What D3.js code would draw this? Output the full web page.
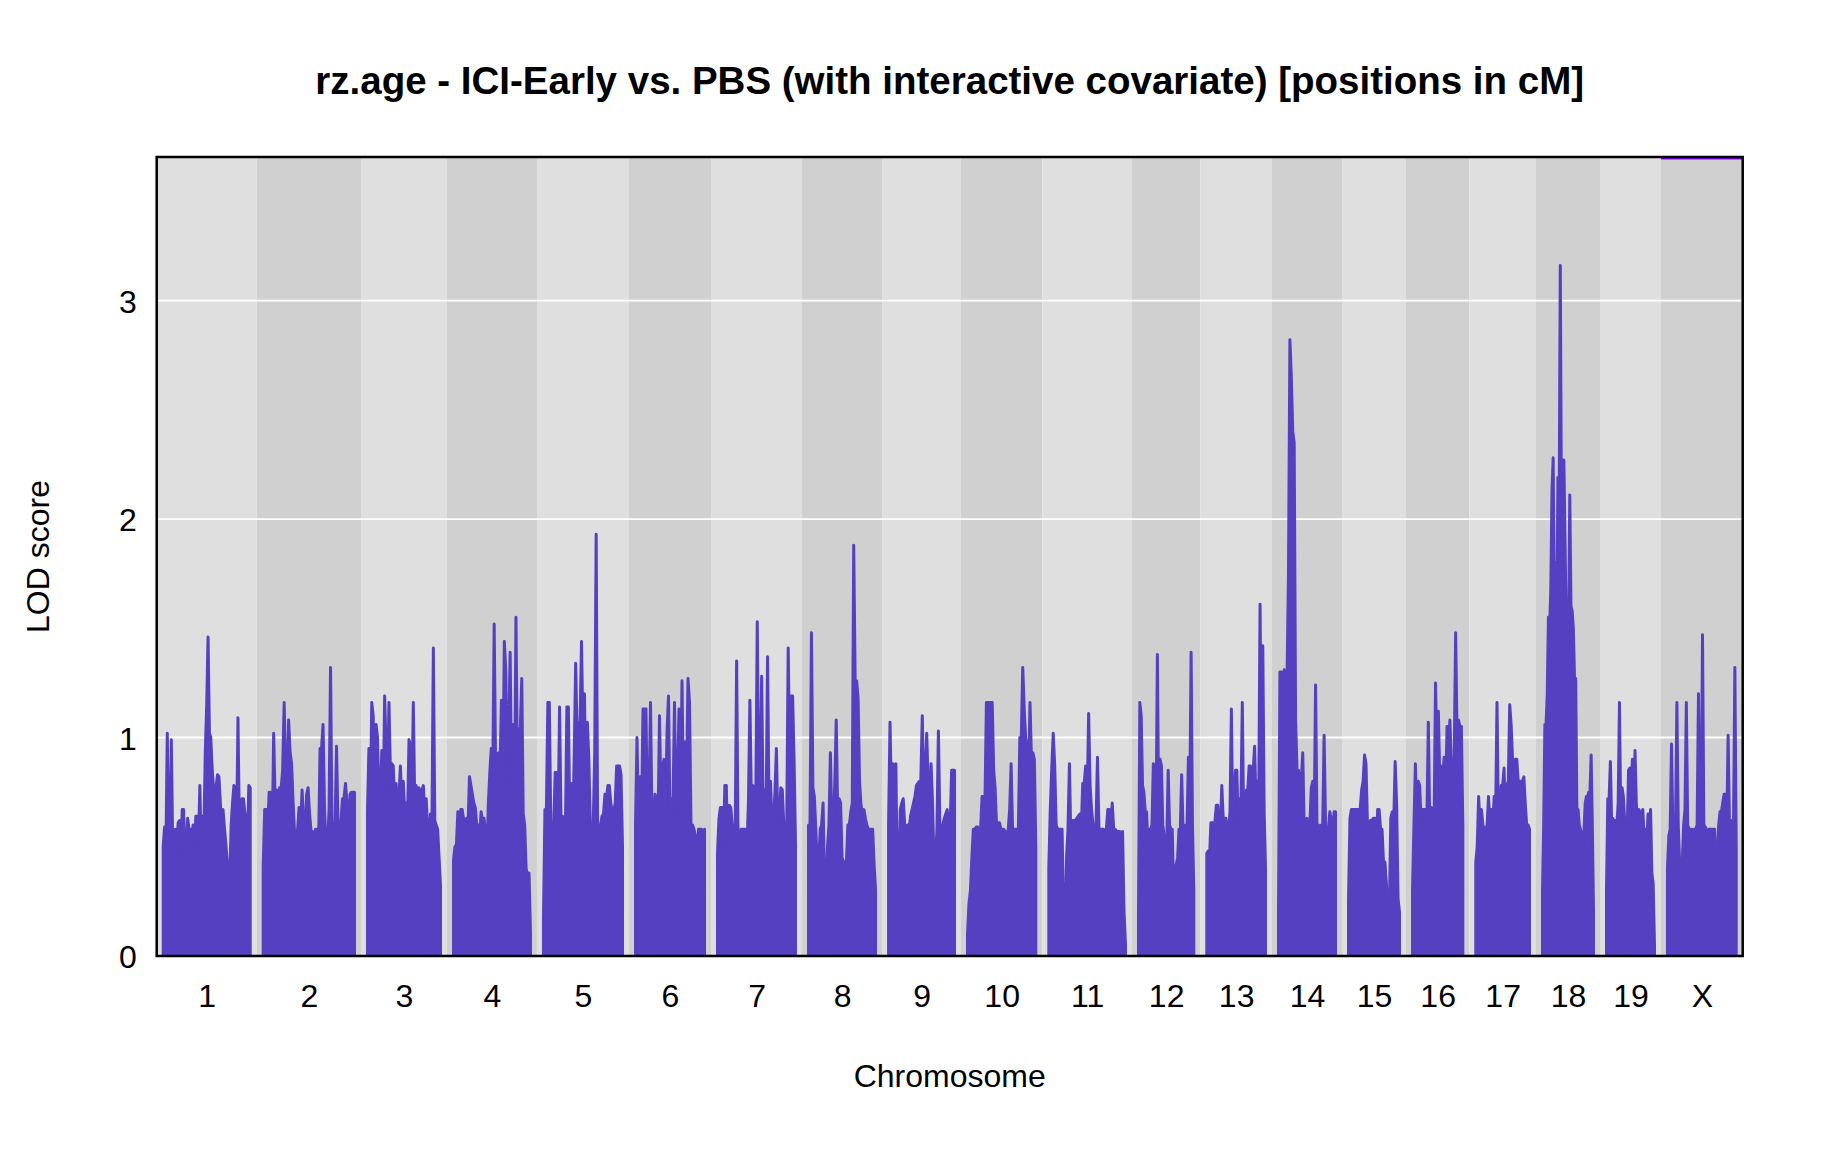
<!DOCTYPE html>
<html>
<head>
<meta charset="utf-8">
<script src="https://cdn.jsdelivr.net/npm/d3@7"></script>
<style>
  html, body { margin: 0; padding: 0; background: #ffffff; }
  svg { display: block; }
</style>
</head>
<body>
<svg id="chart" width="1824" height="1152"></svg>
<script>
// ---------------- DATA ----------------
const chromosomes = ["1","2","3","4","5","6","7","8","9","10","11","12","13","14","15","16","17","18","19","X"];
// chromosome lengths (cM)
const chrLengthsCM = [97.2, 102.0, 81.6, 86.0, 88.3, 77.1, 87.2, 74.9, 73.7, 76.3, 85.7, 61.8, 65.6, 63.7, 57.0, 56.2, 60.0, 57.0, 53.6, 76.8];
const gapCM = 14.5;
const yTicks = [0, 1, 2, 3];
const yMax = 3.657;

// LOD scores along each chromosome (left to right)
const lod1 = [0.50,0.59,0.48,1.02,0.57,0.50,0.99,0.50,0.44,0.58,0.50,0.61,0.62,0.45,0.67,0.67,0.44,0.50,0.63,0.58,0.58,0.55,0.60,0.50,0.64,0.64,0.55,0.78,0.44,0.64,0.60,0.94,1.15,1.46,1.02,1.00,0.86,0.77,0.76,0.78,0.83,0.82,0.71,0.55,0.67,0.59,0.52,0.44,0.38,0.37,0.60,0.70,0.78,0.77,0.55,1.09,0.60,0.58,0.72,0.72,0.66,0.60,0.55,0.78,0.77];
const lod2 = [0.41,0.67,0.67,0.59,0.75,0.75,0.50,1.02,0.70,0.76,0.60,0.77,0.77,0.85,1.16,0.88,0.70,1.08,0.93,0.88,0.70,0.56,0.52,0.58,0.68,0.60,0.76,0.60,0.55,0.74,0.77,0.65,0.57,0.57,0.51,0.58,0.58,0.51,0.95,0.95,1.06,0.67,0.50,0.51,0.67,1.32,0.55,0.60,0.60,0.96,0.60,0.58,0.62,0.72,0.72,0.79,0.70,0.40,0.74,0.75,0.75,0.75];
const lod3 = [0.66,0.95,0.70,1.16,1.10,0.72,1.06,1.00,0.68,0.75,0.94,0.70,1.19,0.95,0.75,1.16,0.85,0.88,0.87,0.70,0.79,0.66,0.73,0.87,0.68,0.80,0.66,0.70,0.64,0.99,0.96,0.72,1.16,0.70,0.78,0.66,0.77,0.62,0.76,0.78,0.66,0.72,0.59,0.55,0.65,0.60,1.41,0.62,0.60,0.58,0.45,0.32];
const lod4 = [0.44,0.50,0.51,0.66,0.62,0.67,0.67,0.62,0.62,0.63,0.60,0.82,0.78,0.74,0.70,0.68,0.60,0.60,0.55,0.66,0.62,0.63,0.57,0.47,0.70,0.84,0.95,0.80,1.52,0.85,0.92,0.93,0.85,1.17,0.80,1.44,1.30,0.80,1.02,1.39,0.75,1.06,0.66,1.55,0.85,1.04,1.04,1.27,0.65,0.60,0.40,0.37,0.38,0.10];
const lod5 = [0.17,0.67,0.67,1.16,1.16,0.60,0.50,0.60,0.84,0.84,0.60,1.14,0.62,0.64,0.63,0.58,1.14,1.14,0.60,0.79,0.55,0.92,1.34,1.00,1.07,1.07,1.44,1.00,1.20,0.75,1.07,0.90,0.60,0.42,0.60,0.93,1.93,0.60,0.60,0.60,0.64,0.65,0.74,0.72,0.78,0.78,0.70,0.66,0.66,0.70,0.87,0.87,0.87,0.83,0.50];
const lod6 = [0.60,1.00,0.62,0.82,0.60,1.13,1.13,1.13,0.57,0.70,1.16,0.62,0.57,0.74,0.72,0.60,1.10,0.70,0.87,0.90,0.62,1.02,1.19,0.62,0.72,0.70,1.16,0.62,0.80,1.13,0.65,1.26,0.70,0.98,0.80,1.27,1.16,0.60,0.60,0.58,0.55,0.30,0.58,0.58,0.58,0.57,0.58];
const lod7 = [0.47,0.63,0.68,0.68,0.50,0.78,0.78,0.42,0.69,0.68,0.60,0.52,0.55,1.35,0.50,0.15,0.58,0.58,0.58,0.58,0.50,0.70,1.17,0.72,0.78,0.77,0.72,1.53,0.75,0.82,1.28,0.65,0.76,0.65,1.37,0.65,0.80,0.60,0.62,0.75,0.95,0.60,0.62,0.77,0.76,0.60,0.58,0.60,1.41,0.90,1.19,1.19,0.90,0.50];
const lod8 = [0.60,0.60,1.48,0.77,0.73,0.58,0.42,0.43,0.58,0.60,0.70,0.30,0.32,0.50,0.60,0.93,0.60,0.60,0.79,1.08,0.65,0.72,0.70,0.45,0.43,0.43,0.43,0.60,0.60,0.66,0.70,1.88,1.25,1.26,1.18,0.80,0.69,0.65,0.67,0.63,0.60,0.58,0.58,0.58,0.58,0.42,0.30];
const lod9 = [0.60,1.07,0.70,0.88,0.60,0.88,0.30,0.40,0.67,0.70,0.72,0.60,0.55,0.60,0.58,0.64,0.67,0.70,0.73,0.78,0.79,0.80,0.80,1.10,0.72,0.83,1.02,0.80,0.60,0.88,0.70,0.43,0.43,0.58,1.03,0.60,0.45,0.60,0.63,0.65,0.67,0.60,0.58,0.85,0.85,0.85];
const lod10 = [0.10,0.24,0.30,0.45,0.58,0.58,0.59,0.59,0.42,0.58,0.73,0.73,0.70,1.16,1.16,1.16,1.16,1.16,0.85,0.77,0.59,0.61,0.61,0.58,0.58,0.58,0.57,0.49,0.58,0.67,0.88,0.58,0.58,0.58,0.58,0.58,1.00,1.00,1.32,1.13,1.00,0.97,0.80,1.16,0.90,0.93,0.90,0.50];
const lod11 = [0.40,0.67,0.86,1.02,0.87,0.60,0.58,0.58,0.58,0.58,0.20,0.06,0.45,0.58,0.88,0.50,0.62,0.62,0.62,0.63,0.64,0.65,0.58,0.79,0.79,0.87,0.70,1.11,0.78,0.67,0.60,0.58,0.60,0.91,0.58,0.58,0.58,0.58,0.52,0.58,0.67,0.67,0.60,0.70,0.58,0.58,0.57,0.57,0.57,0.56,0.57,0.20,0.05];
const lod12 = [0.20,1.16,1.10,0.78,0.75,0.66,0.66,0.50,0.58,0.58,0.60,0.88,0.85,0.60,1.38,0.60,0.90,0.87,0.60,0.55,0.50,0.53,0.85,0.60,0.58,0.58,0.30,0.40,0.42,0.45,0.58,0.58,0.83,0.58,0.58,0.60,0.60,0.91,0.70,1.39,0.60,0.30];
const lod13 = [0.47,0.48,0.45,0.61,0.61,0.58,0.62,0.69,0.69,0.55,0.60,0.78,0.63,0.63,0.63,0.58,0.58,0.66,1.13,0.60,0.70,0.85,0.85,0.60,0.72,0.70,1.16,0.60,0.57,0.76,0.76,0.87,0.87,0.85,0.85,0.96,0.70,0.80,0.70,1.61,0.80,1.42,0.66,0.40];
const lod14 = [0.20,1.30,1.30,1.05,1.31,1.10,1.28,1.75,2.82,2.65,2.40,2.35,1.08,0.85,0.85,0.80,0.80,0.93,0.60,0.60,0.63,0.50,0.60,0.77,0.80,0.60,1.24,0.60,0.60,0.58,0.60,0.60,1.01,0.60,0.55,0.58,0.66,0.62,0.58,0.66,0.66];
const lod15 = [0.25,0.63,0.67,0.67,0.67,0.67,0.67,0.67,0.67,0.76,0.80,0.92,0.88,0.60,0.40,0.62,0.62,0.63,0.63,0.50,0.67,0.67,0.58,0.58,0.43,0.43,0.33,0.20,0.20,0.63,0.66,0.60,0.89,0.70,0.26,0.20];
const lod16 = [0.30,0.60,0.88,0.60,0.80,0.78,0.60,0.67,0.67,0.67,0.60,1.07,0.60,0.68,0.67,0.60,1.25,0.90,1.12,0.80,0.87,0.80,0.91,0.70,1.05,0.90,1.08,0.88,0.88,0.90,1.48,1.00,1.08,1.05,1.05,0.60];
const lod17 = [0.43,0.50,0.73,0.60,0.67,0.60,0.58,0.58,0.60,0.73,0.60,0.67,0.60,0.73,0.63,1.16,0.62,0.62,0.78,0.78,0.86,0.60,0.78,0.80,1.15,1.06,0.90,0.87,0.90,0.90,0.80,0.80,0.80,0.80,0.82,0.70,0.60,0.60,0.58];
const lod18 = [0.30,0.60,1.06,1.06,1.20,1.55,1.50,1.68,2.13,2.28,1.60,1.80,1.50,2.19,2.00,3.16,2.00,1.80,2.27,1.90,1.50,1.40,1.50,2.11,1.60,1.58,1.50,1.27,1.27,0.66,0.67,0.60,0.58,0.55,0.50,0.58,0.70,0.73,0.73,0.75,0.75,0.92,0.60,0.20];
const lod19 = [0.30,0.72,0.72,0.89,0.60,0.63,0.60,0.62,0.60,0.70,1.16,0.62,0.77,0.73,0.62,0.60,0.58,0.85,0.86,0.78,0.90,0.60,0.94,0.70,0.60,0.67,0.50,0.66,0.67,0.55,0.58,0.50,0.65,0.60,0.67,0.38,0.33,0.05];
const lodX = [0.40,0.55,0.58,0.97,0.58,0.58,0.60,1.16,0.60,0.43,0.43,0.43,0.60,0.67,1.16,0.60,0.58,0.58,0.58,0.44,0.58,0.58,0.60,1.20,0.60,0.58,1.47,0.60,0.59,0.58,0.44,0.58,0.58,0.58,0.58,0.58,0.37,0.45,0.60,0.66,0.66,0.70,0.74,0.74,0.60,1.01,0.60,0.62,0.60,0.60,1.32,0.50];

const lodByChr = [lod1,lod2,lod3,lod4,lod5,lod6,lod7,lod8,lod9,lod10,lod11,lod12,lod13,lod14,lod15,lod16,lod17,lod18,lod19,lodX];

const titleText = "rz.age - ICI-Early vs. PBS (with interactive covariate) [positions in cM]";
const xLabel = "Chromosome";
const yLabel = "LOD score";

// ---------------- LAYOUT / STYLE ----------------
const plot = { left: 156.7, right: 1742.7, top: 157, bottom: 956 };
const colLine = "#5440c0";
const colLight = "#dfdfdf";
const colDark = "#d0d0d0";
const fontFam = "'Liberation Sans', Arial, Helvetica, sans-serif";

const svg = d3.select("#chart");

// chromosome start offsets on the combined axis
const starts = [];
let acc = 0;
chrLengthsCM.forEach(L => { starts.push(acc + gapCM / 2); acc += L + gapCM; });
const totalCM = acc;

const x = d3.scaleLinear().domain([0, totalCM]).range([plot.left, plot.right]);
const y = d3.scaleLinear().domain([0, yMax]).range([plot.bottom, plot.top]);

svg.append("defs").append("clipPath").attr("id", "plotclip")
  .append("rect")
  .attr("x", plot.left).attr("y", plot.top)
  .attr("width", plot.right - plot.left).attr("height", plot.bottom - plot.top);

// alternating background bands
svg.append("g").selectAll("rect")
  .data(chromosomes)
  .join("rect")
  .attr("x", (d, i) => x(starts[i] - gapCM / 2))
  .attr("width", (d, i) => x(starts[i] + chrLengthsCM[i] + gapCM / 2) - x(starts[i] - gapCM / 2))
  .attr("y", plot.top)
  .attr("height", plot.bottom - plot.top)
  .attr("fill", (d, i) => i % 2 === 0 ? colLight : colDark);

// horizontal grid lines
svg.append("g").selectAll("line")
  .data(yTicks.filter(t => t > 0))
  .join("line")
  .attr("x1", plot.left).attr("x2", plot.right)
  .attr("y1", d => y(d)).attr("y2", d => y(d))
  .attr("stroke", "#ffffff").attr("stroke-width", 1.8);

// LOD curves
const area = d3.area()
  .x(d => x(d[0]))
  .y0(y(0))
  .y1(d => y(d[1]));

const gData = svg.append("g").attr("clip-path", "url(#plotclip)");
lodByChr.forEach((vals, i) => {
  const n = vals.length;
  const L = chrLengthsCM[i];
  const pts = vals.map((v, k) => [starts[i] + L * k / (n - 1), v]);
  gData.append("path")
    .datum(pts)
    .attr("d", area)
    .attr("fill", colLine)
    .attr("stroke", colLine)
    .attr("stroke-width", 3)
    .attr("stroke-linejoin", "round");
});

// top marker line over X chromosome band
const xi = chromosomes.length - 1;
svg.append("line")
  .attr("x1", x(starts[xi] - gapCM / 2)).attr("x2", x(starts[xi] + chrLengthsCM[xi] + gapCM / 2))
  .attr("y1", y(yMax) + 1.5).attr("y2", y(yMax) + 1.5)
  .attr("stroke", "#8000ff").attr("stroke-width", 2);

// frame
svg.append("rect")
  .attr("x", plot.left).attr("y", plot.top)
  .attr("width", plot.right - plot.left).attr("height", plot.bottom - plot.top)
  .attr("fill", "none").attr("stroke", "#000").attr("stroke-width", 2.5);

// y axis
const yAxis = d3.axisLeft(y).tickValues(yTicks).tickFormat(d3.format("d")).tickSize(0).tickPadding(20);
const gy = svg.append("g").attr("transform", `translate(${plot.left},0)`).call(yAxis);
gy.select(".domain").remove();
gy.selectAll("text").attr("font-family", fontFam).attr("font-size", 32).attr("fill", "#000").attr("dy", "0.36em");

// x axis (chromosome names at chromosome midpoints)
const mids = chromosomes.map((c, i) => starts[i] + chrLengthsCM[i] / 2);
const xAxis = d3.axisBottom(x).tickValues(mids).tickFormat((d, i) => chromosomes[i]).tickSize(0).tickPadding(28.5);
const gx = svg.append("g").attr("transform", `translate(0,${plot.bottom})`).call(xAxis);
gx.select(".domain").remove();
gx.selectAll("text").attr("font-family", fontFam).attr("font-size", 32).attr("fill", "#000");

// labels
svg.append("text")
  .attr("x", (plot.left + plot.right) / 2).attr("y", 1087)
  .attr("text-anchor", "middle")
  .attr("font-family", fontFam).attr("font-size", 32)
  .text(xLabel);

svg.append("text")
  .attr("transform", `translate(49,${(plot.top + plot.bottom) / 2}) rotate(-90)`)
  .attr("text-anchor", "middle")
  .attr("font-family", fontFam).attr("font-size", 32)
  .text(yLabel);

svg.append("text")
  .attr("x", (plot.left + plot.right) / 2).attr("y", 94)
  .attr("text-anchor", "middle")
  .attr("font-family", fontFam).attr("font-size", 38.5).attr("font-weight", "bold")
  .text(titleText);
</script>
</body>
</html>
